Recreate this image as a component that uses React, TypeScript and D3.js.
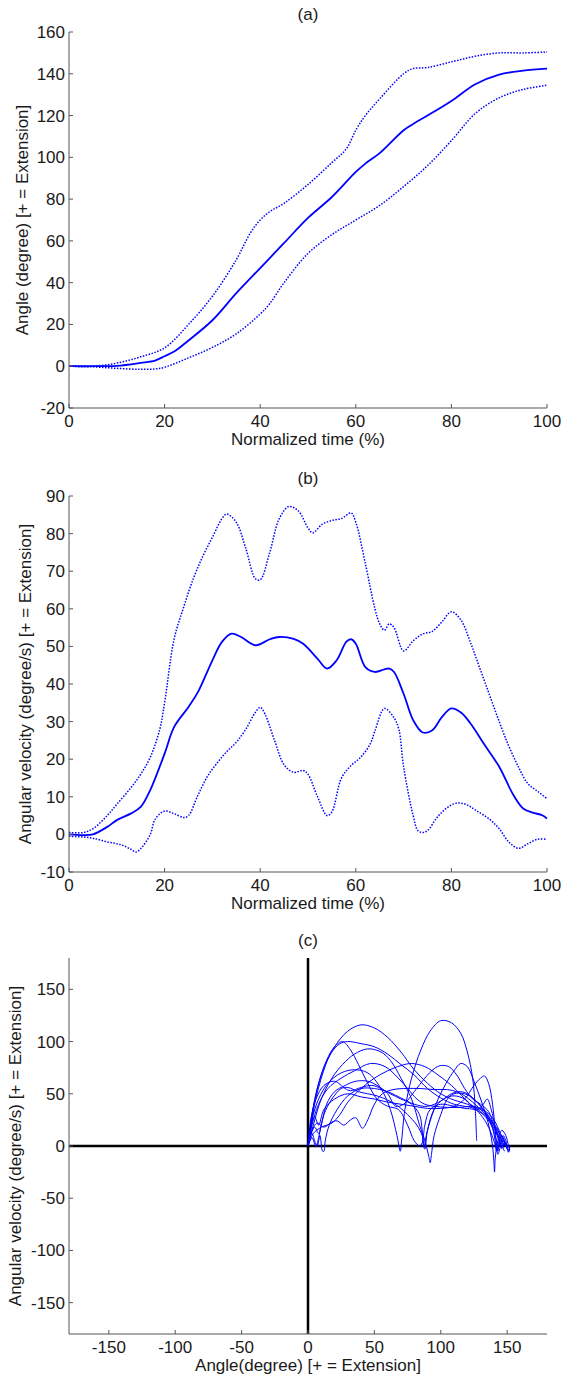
import React from "react";
import * as d3 from "d3";

// ---------- Panel (a): angle vs normalized time ----------
const angleMean: [number, number][] = [
  [0, 0], [5, 0], [10, 0.2], [15, 1.6], [18, 2.7], [20, 4.8], [22, 7], [25, 12.3], [30, 22], [35, 35],
  [40, 47], [45, 59], [50, 71], [55, 81], [60, 93], [62, 97], [65, 102], [70, 113], [72, 116],
  [75, 120], [80, 127], [85, 135], [90, 139.6], [95, 141.5], [100, 142.5],
];
const angleUpper: [number, number][] = [
  [0, 0], [5, 0], [10, 1.5], [15, 4.5], [20, 8.8], [25, 20], [30, 33.5], [35, 51], [38, 64], [40, 70],
  [42, 74], [45, 78], [50, 87], [55, 97.5], [58, 104], [60, 113], [62, 120], [65, 128], [70, 140],
  [72, 142.5], [75, 143], [80, 145.7], [85, 148.4], [90, 150], [95, 150], [100, 150.4],
];
const angleLower: [number, number][] = [
  [0, 0], [5, -0.3], [10, -1], [15, -1.5], [18, -1.3], [20, -0.5], [25, 4], [30, 9], [35, 15.5],
  [40, 25], [42, 30], [45, 40], [50, 54], [55, 63], [60, 70], [65, 77], [70, 86], [75, 96], [80, 108],
  [85, 121], [90, 128.5], [95, 132.5], [100, 134.5],
];

// ---------- Panel (b): angular velocity vs normalized time ----------
const velMean: [number, number][] = [
  [0, 0], [3, -0.2], [5, 0], [8, 2], [10, 3.8], [13, 5.6], [15, 7.3], [17, 11.8], [20, 21.5], [22, 28.6],
  [25, 33.9], [27, 37.9], [30, 46.3], [32, 51.2], [34, 53.4], [36, 52.5], [39, 50.3], [42, 51.9],
  [44, 52.5], [47, 52], [49, 50.7], [52, 46.7], [54, 44.1], [56, 46.3], [58, 51.2], [59, 51.9],
  [60, 50.7], [62, 44.5], [64, 43.2], [66, 43.9], [67, 44.1], [68, 43.2], [70, 37.4], [72, 30.4],
  [74, 27.1], [76, 27.7], [78, 31.2], [80, 33.5], [82, 32.4], [84, 29.5], [87, 23.7], [90, 18],
  [93, 10.4], [95, 6.9], [97, 5.8], [99, 5.1], [100, 4.2],
];
const velUpper: [number, number][] = [
  [0, 0.5], [3, 0.5], [5, 1.5], [8, 5], [10, 8], [13, 12.5], [15, 16], [17, 20.5], [19, 28], [20, 35],
  [22, 52], [24, 60.5], [26, 68], [28, 74], [30, 79], [32, 84], [33, 85.2], [35, 83], [37, 76],
  [39, 68], [40, 67.7], [42, 75], [44, 84], [46, 87.2], [48, 86], [50, 81.5], [51, 80.2], [53, 82.5],
  [55, 83.5], [57, 84], [59, 85.5], [60, 83], [62, 72], [64, 60], [65, 56], [66, 54.3], [67, 56],
  [68, 55], [70, 48.8], [72, 51.5], [74, 53.3], [76, 54], [78, 56.5], [80, 59.2], [82, 57], [84, 51],
  [86, 44], [88, 37], [90, 30], [92, 23.5], [94, 18], [96, 13.5], [98, 11.5], [100, 9.5],
];
const velLower: [number, number][] = [
  [0, -0.5], [3, -0.7], [5, -1], [8, -2], [11, -2.8], [13, -4], [14, -4.7], [15, -3.8], [17, 0],
  [18, 4], [20, 6.2], [22, 5.5], [24, 4.5], [25, 5], [27, 10.5], [29, 15.5], [31, 19], [33, 22],
  [35, 24.5], [37, 28], [39, 32.5], [40, 33.8], [41, 32], [43, 25], [45, 18.5], [47, 16.5], [49, 17],
  [50, 16], [52, 10], [54, 5], [55, 6], [57, 15], [59, 18.3], [61, 20.5], [63, 24], [64, 27.5],
  [66, 33.5], [68, 31], [69, 28], [70, 18], [72, 5], [73, 1], [74, 0.5], [75, 1], [77, 4.5], [79, 7],
  [81, 8.3], [83, 8], [85, 6.5], [88, 4], [90, 1.5], [92, -2], [94, -3.7], [96, -2.5], [98, -1.3],
  [100, -1.3],
];

// ---------- Panel (c): phase portraits (angle, angular velocity) per trial ----------
const trial1: [number, number][] = [[0, 0], [2, 20], [6, 50], [12, 75], [20, 95], [30, 110], [40, 116], [50, 113], [60, 104], [70, 90], [80, 73], [90, 60], [100, 50], [110, 44], [120, 40], [130, 33], [140, 20], [146, 8], [149, 0]];
const trial2: [number, number][] = [[0, 0], [3, 25], [8, 45], [15, 60], [25, 70], [35, 73], [45, 70], [55, 55], [62, 35], [67, 10], [69.5, -5], [70.5, 5], [73, 35], [78, 65], [85, 92], [92, 110], [100, 120], [108, 118], [115, 108], [120, 90], [124, 65], [126, 35], [127, 5]];
const trial3: [number, number][] = [[0, 0], [3, 30], [8, 60], [14, 82], [20, 95], [26, 100], [32, 92], [38, 78], [45, 60], [52, 45], [60, 38], [68, 35], [75, 20], [80, 5], [84, 0], [86, 3], [88, 20], [92, 35], [100, 40], [110, 38], [118, 36], [125, 35], [132, 30], [138, 20], [141, 5], [142, -5], [143, 0], [146, 10], [148, 5], [150, -3]];
const trial4: [number, number][] = [[0, 0], [2, 15], [5, 40], [10, 65], [17, 88], [24, 98], [30, 100], [40, 98], [50, 95], [60, 88], [70, 78], [80, 68], [90, 55], [100, 46], [110, 40], [118, 38], [125, 36], [130, 30], [136, 18], [140, 5], [142, -3], [144, 2], [147, 5], [150, 0]];
const trial5: [number, number][] = [[0, 0], [4, 20], [10, 45], [18, 65], [26, 78], [35, 88], [45, 93], [55, 90], [62, 82], [70, 65], [78, 45], [84, 20], [88, 5], [91, -10], [92, -16], [93, -8], [95, 10], [100, 30], [105, 45], [110, 50], [118, 50], [125, 45], [132, 35], [138, 22], [143, 10], [147, 3], [150, -2], [152, -5]];
const trial6: [number, number][] = [[0, 0], [3, 20], [8, 40], [15, 55], [25, 65], [35, 72], [47, 79], [58, 76], [68, 65], [75, 55], [82, 45], [88, 40], [95, 38], [105, 37], [115, 37], [122, 38], [128, 37], [134, 33], [140, 25], [145, 12], [149, 2], [151, -5], [152, 0]];
const trial7: [number, number][] = [[0, 0], [4, 12], [10, 18], [18, 22], [24, 30], [30, 42], [40, 55], [50, 65], [60, 72], [70, 77], [78, 79], [88, 76], [98, 68], [108, 58], [116, 48], [122, 40], [128, 36], [133, 33], [138, 25], [142, 15], [145, 5], [146, -2], [148, 3], [150, -3]];
const trial8: [number, number][] = [[0, 0], [3, 15], [7, 22], [12, 18], [18, 23], [22, 24], [27, 20], [32, 25], [36, 27], [41, 17], [45, 25], [50, 40], [56, 50], [64, 54], [72, 55], [85, 55], [95, 54], [105, 54], [112, 52], [118, 48], [124, 42], [130, 35], [135, 28], [139, 18], [142, 5], [143, -5], [144, 0], [147, 5], [150, 0]];
const trial9: [number, number][] = [[0, 0], [2, 10], [5, 18], [8, 12], [10, 20], [14, 40], [20, 52], [28, 58], [36, 62], [45, 62], [52, 58], [60, 50], [66, 38], [72, 40], [80, 52], [88, 65], [95, 74], [100, 77], [106, 76], [112, 68], [118, 55], [124, 45], [130, 40], [136, 33], [140, 20], [143, 8], [145, -1]];
const trial10: [number, number][] = [[0, 0], [3, 8], [6, -1], [8, 8], [12, 30], [18, 45], [25, 55], [30, 56], [38, 52], [45, 50], [52, 48], [60, 44], [68, 38], [75, 30], [82, 20], [86, 10], [87.5, 0], [89, 10], [93, 28], [98, 45], [104, 60], [110, 72], [115, 79], [120, 76], [125, 62], [130, 45], [134, 30], [137, 15], [139, 0], [140, -15], [140.5, -25], [141, -12], [143, 5], [146, 15], [149, 10], [151, 0], [152, -4]];
const trial11: [number, number][] = [[0, 0], [2, 18], [5, 28], [8, 20], [12, 35], [20, 45], [30, 50], [40, 47], [50, 45], [60, 42], [70, 40], [80, 38], [90, 36], [100, 36], [110, 38], [118, 45], [125, 58], [130, 65], [133, 67], [136, 60], [139, 40], [141, 15], [142, 0], [143, -8], [145, 0], [147, 10], [149, 5], [151, -6], [152, 0]];
const trial12: [number, number][] = [[0, 0], [1, 8], [3, 12], [5, 5], [7, 0], [9, 10], [11, -5], [12, -5], [13, 5], [16, 20], [22, 35], [30, 48], [40, 55], [50, 55], [60, 52], [70, 46], [80, 40], [90, 38], [100, 43], [108, 50], [115, 52], [120, 50], [125, 45], [130, 38], [135, 30], [139, 22], [142, 18], [144, 12], [146, 5], [147, -2], [148, -5]];
const trial13: [number, number][] = [[0, 0], [2, 25], [6, 45], [12, 58], [20, 62], [28, 55], [32, 53], [40, 56], [48, 58], [55, 55], [62, 50], [70, 45], [78, 40], [84, 30], [86, 15], [87, 0], [88, -3], [90, 15], [95, 35], [102, 45], [110, 48], [118, 45], [124, 38], [128, 35], [132, 40], [135, 45], [138, 35], [141, 18], [144, 5], [146, -3]];
const trials = [trial1, trial2, trial3, trial4, trial5, trial6, trial7, trial8, trial9, trial10, trial11, trial12, trial13];

// ---------- Tick labels ----------
const timeTicks = [0, 20, 40, 60, 80, 100];
const angleTicks = [-20, 0, 20, 40, 60, 80, 100, 120, 140, 160];
const velTicks = [-10, 0, 10, 20, 30, 40, 50, 60, 70, 80, 90];
const phaseTicks = [-150, -100, -50, 0, 50, 100, 150];

const FONT = "'Liberation Sans', Arial, Helvetica, sans-serif";
const BLUE = "#0000ff";
const AXIS = "#555";
const TEXT = "#1a1a1a";
const LEFT = 69;
const RIGHT = 547;

type PanelProps = {
  top: number;
  bottom: number;
  xDomain: [number, number];
  yDomain: [number, number];
  xTicks: number[];
  yTicks: number[];
  title: string;
  xLabel: string;
  yLabel: string;
  yLabelX: number;
  render: (x: d3.ScaleLinear<number, number>, y: d3.ScaleLinear<number, number>) => React.ReactNode;
};

function Panel({ top, bottom, xDomain, yDomain, xTicks, yTicks, title, xLabel, yLabel, yLabelX, render }: PanelProps) {
  const x = d3.scaleLinear().domain(xDomain).range([LEFT, RIGHT]);
  const y = d3.scaleLinear().domain(yDomain).range([bottom, top]);
  const tl = 4;
  const midX = (LEFT + RIGHT) / 2;
  const midY = (top + bottom) / 2;
  return (
    <g>
      {render(x, y)}
      <line x1={LEFT} x2={RIGHT} y1={bottom} y2={bottom} stroke={AXIS} strokeWidth={1} />
      <line x1={LEFT} x2={LEFT} y1={top} y2={bottom} stroke={AXIS} strokeWidth={1} />
      {xTicks.map((t) => (
        <g key={"x" + t}>
          <line x1={x(t)} x2={x(t)} y1={bottom} y2={bottom - tl} stroke={AXIS} strokeWidth={1} />
          <text x={x(t)} y={bottom + 19} textAnchor="middle" fontSize={17} fontFamily={FONT} fill={TEXT}>
            {String(t)}
          </text>
        </g>
      ))}
      {yTicks.map((t) => (
        <g key={"y" + t}>
          <line x1={LEFT} x2={LEFT + tl} y1={y(t)} y2={y(t)} stroke={AXIS} strokeWidth={1} />
          <text x={LEFT - 4} y={y(t) + 6} textAnchor="end" fontSize={17} fontFamily={FONT} fill={TEXT}>
            {String(t)}
          </text>
        </g>
      ))}
      <text x={midX} y={top - 12} textAnchor="middle" fontSize={17} fontFamily={FONT} fill={TEXT}>
        {title}
      </text>
      <text x={midX} y={bottom + 37} textAnchor="middle" fontSize={17} fontFamily={FONT} fill={TEXT}>
        {xLabel}
      </text>
      <text
        transform={`translate(${yLabelX},${midY}) rotate(-90)`}
        textAnchor="middle"
        fontSize={17}
        fontFamily={FONT}
        fill={TEXT}
      >
        {yLabel}
      </text>
    </g>
  );
}

function makeLine(x: d3.ScaleLinear<number, number>, y: d3.ScaleLinear<number, number>) {
  return d3
    .line<[number, number]>()
    .x((d) => x(d[0]))
    .y((d) => y(d[1]))
    .curve(d3.curveCatmullRom.alpha(0.5));
}

export default function App() {
  return (
    <svg width={563} height={1379} style={{ position: "absolute", left: 0, top: 0, background: "#fff" }}>
      <rect width={563} height={1379} fill="#fff" />
      <Panel
        top={32}
        bottom={408}
        xDomain={[0, 100]}
        yDomain={[-20, 160]}
        xTicks={timeTicks}
        yTicks={angleTicks}
        title="(a)"
        xLabel="Normalized time (%)"
        yLabel="Angle (degree) [+ = Extension]"
        yLabelX={28}
        render={(x, y) => {
          const ln = makeLine(x, y);
          return (
            <g fill="none" stroke={BLUE}>
              <path d={ln(angleUpper) || ""} strokeWidth={1.5} strokeDasharray="1.5 1.5" />
              <path d={ln(angleLower) || ""} strokeWidth={1.5} strokeDasharray="1.5 1.5" />
              <path d={ln(angleMean) || ""} strokeWidth={1.8} />
            </g>
          );
        }}
      />
      <Panel
        top={496}
        bottom={872}
        xDomain={[0, 100]}
        yDomain={[-10, 90]}
        xTicks={timeTicks}
        yTicks={velTicks}
        title="(b)"
        xLabel="Normalized time (%)"
        yLabel="Angular velocity (degree/s) [+ = Extension]"
        yLabelX={31}
        render={(x, y) => {
          const ln = makeLine(x, y);
          return (
            <g fill="none" stroke={BLUE}>
              <path d={ln(velUpper) || ""} strokeWidth={1.5} strokeDasharray="1.5 1.5" />
              <path d={ln(velLower) || ""} strokeWidth={1.5} strokeDasharray="1.5 1.5" />
              <path d={ln(velMean) || ""} strokeWidth={1.8} />
            </g>
          );
        }}
      />
      <Panel
        top={958}
        bottom={1334}
        xDomain={[-180, 180]}
        yDomain={[-180, 180]}
        xTicks={phaseTicks}
        yTicks={phaseTicks}
        title="(c)"
        xLabel="Angle(degree) [+ = Extension]"
        yLabel="Angular velocity (degree/s) [+ = Extension]"
        yLabelX={21}
        render={(x, y) => {
          const ln = makeLine(x, y);
          return (
            <g>
              <line x1={x(0)} x2={x(0)} y1={y(180)} y2={y(-180)} stroke="#000" strokeWidth={2.5} />
              <line x1={x(-180)} x2={x(180)} y1={y(0)} y2={y(0)} stroke="#000" strokeWidth={2.5} />
              <g fill="none" stroke={BLUE} strokeWidth={1}>
                {trials.map((tr, i) => (
                  <path key={i} d={ln(tr) || ""} />
                ))}
              </g>
            </g>
          );
        }}
      />
    </svg>
  );
}
